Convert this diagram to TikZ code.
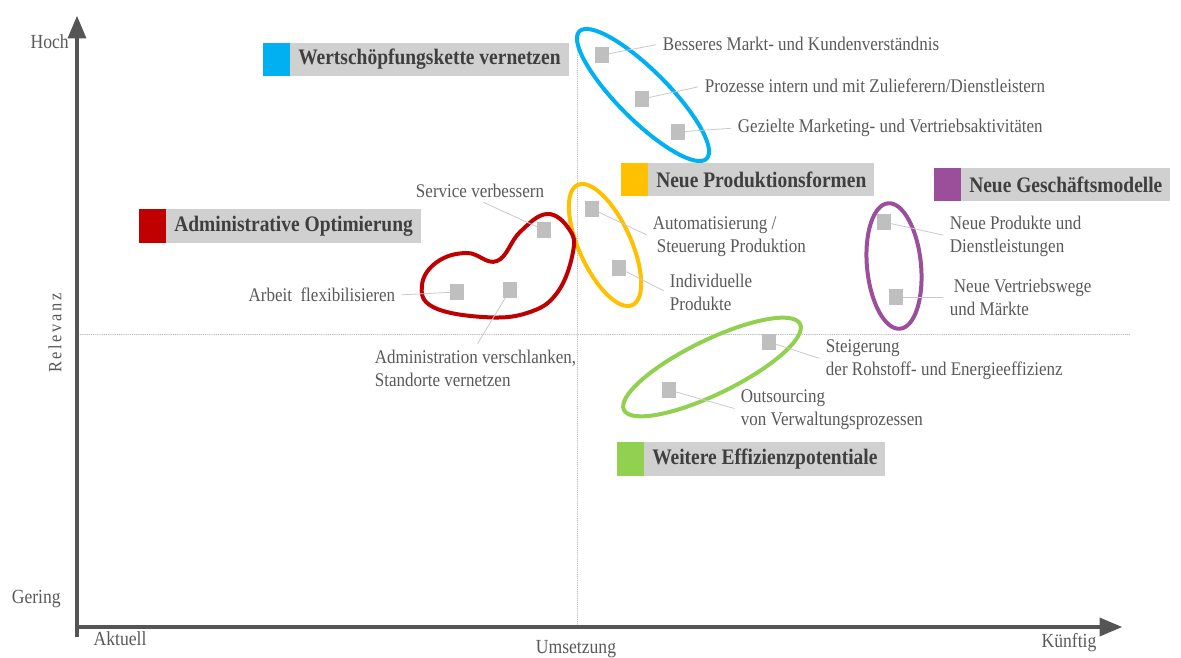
\documentclass[tikz,border=0pt]{standalone}
\usepackage{fontspec}
\setmainfont{Liberation Serif}[FakeStretch=0.88]
\usetikzlibrary{arrows}
\definecolor{cblue}{HTML}{00B0F0}
\definecolor{cred}{HTML}{C00000}
\definecolor{cyellow}{HTML}{FFC000}
\definecolor{cpurple}{HTML}{9B4F9B}
\definecolor{cgreen}{HTML}{92D050}
\definecolor{boxgray}{HTML}{D0D0D0}
\definecolor{ptgray}{HTML}{BFBFBF}
\definecolor{txtgray}{HTML}{595959}
\definecolor{headgray}{HTML}{3F3F3F}
\definecolor{axisgray}{HTML}{555555}
\definecolor{leadgray}{HTML}{C8C8C8}
\definecolor{guidegray}{HTML}{B4B4B4}

\begin{document}
\begin{tikzpicture}[line cap=round,line join=round,>=triangle 45,x=0.75pt,y=-0.75pt,
  lbl/.style={text=txtgray,font=\fontsize{14.5}{17.25}\selectfont,inner sep=2pt,align=left},
  axlbl/.style={text=txtgray,font=\fontsize{15}{18}\selectfont,inner sep=0pt},
  pt/.style={fill=ptgray,minimum width=10.5pt,minimum height=12pt,inner sep=0pt},
  lead/.style={draw=leadgray,line width=0.6pt,shorten >=3pt},
  cat/.style={fill=boxgray,text=headgray,font=\fontsize{16.6}{20}\selectfont\bfseries,
    minimum height=25pt,inner xsep=6pt,inner ysep=0pt,anchor=west},
  catkey/.style={minimum width=20.25pt,minimum height=25pt,inner sep=0pt,anchor=east},
  grp/.style={line width=3pt},
  axis/.style={draw=axisgray,line width=3pt,line cap=butt},
  guide/.style={draw=guidegray,line width=0.4pt,densely dotted}]
\useasboundingbox (0,0) rectangle (1181,657);

% axes and the two guide lines
\coordinate (o) at (77,627);
\coordinate (ytop) at (77,16);
\coordinate (xend) at (1122,627);
\draw[guide] (577,33) -- (577,627);
\draw[guide] (80,334) -- (1130,334);
\draw[axis,->] (77,637) -- (ytop);
\draw[axis,->] (75,627) -- (xend);
\node[axlbl,anchor=east] (hoch) at (69,42) {Hoch};
\node[axlbl,anchor=east] (gering) at (61,599) {Gering};
\node[axlbl] (aktuell) at (120,639) {Aktuell};
\node[axlbl] (umsetzung) at (576,649) {Umsetzung};
\node[axlbl] (kuenftig) at (1069,643) {Künftig};
\node[axlbl,rotate=90,font=\fontsize{14}{16}\selectfont\addfontfeatures{LetterSpace=14}] (relevanz) at (55,333) {Relevanz};

% group outlines
\draw[grp,cblue] (643,95) ellipse [x radius=90,y radius=25,rotate=-45];
\draw[grp,cyellow] (605,245) ellipse [x radius=66,y radius=26,rotate=-65.5];
\draw[grp,cpurple] (894,266) ellipse [x radius=63,y radius=27,rotate=-84.5];
\draw[grp,cgreen] (712,367) ellipse [x radius=98,y radius=27,rotate=26];
\draw[grp,cred] plot[smooth cycle,tension=0.7] coordinates {(422,285) (437,262) (467,253)
  (497,261) (520,232) (547,214) (569,229) (573,252) (557,293) (527,313) (483,317) (433,307)};

% category headings
\node[cat] (wsk) at (290,59.5) {Wertschöpfungskette vernetzen};
\node[catkey,fill=cblue] (wskkey) at (wsk.west) {};
\node[cat] (adm) at (166,226) {Administrative Optimierung};
\node[catkey,fill=cred] (admkey) at (adm.west) {};
\node[cat] (prod) at (648,179.5) {Neue Produktionsformen};
\node[catkey,fill=cyellow] (prodkey) at (prod.west) {};
\node[cat] (gm) at (961,184.5) {Neue Geschäftsmodelle};
\node[catkey,fill=cpurple] (gmkey) at (gm.west) {};
\node[cat] (eff) at (644,459) {Weitere Effizienzpotentiale};
\node[catkey,fill=cgreen] (effkey) at (eff.west) {};

% Wertschoepfungskette
\node[pt] (w1) at (602,55) {};
\node[pt] (w2) at (642,99) {};
\node[pt] (w3) at (678,132) {};
\node[lbl,anchor=west] (w1l) at (660,44) {Besseres Markt- und Kundenverständnis};
\node[lbl,anchor=west] (w2l) at (702,86) {Prozesse intern und mit Zulieferern/Dienstleistern};
\node[lbl,anchor=west] (w3l) at (735,128) {Gezielte Marketing- und Vertriebsaktivitäten};
\draw[lead] (w1) -- (w1l.west);
\draw[lead] (w2) -- (w2l.west);
\draw[lead] (w3) -- (w3l.west);

% Administration
\node[pt] (a1) at (544,230) {};
\node[pt] (a2) at (457,292) {};
\node[pt] (a3) at (510,290) {};
\node[lbl] (a1l) at (480,191) {Service verbessern};
\node[lbl,anchor=east] (a2l) at (398,295) {Arbeit~ flexibilisieren};
\node[lbl,anchor=north west] (a3l) at (372,347) {Administration verschlanken,\\Standorte vernetzen};
\draw[lead] (a1) -- (a1l.south);
\draw[lead] (a2) -- (a2l.east);
\draw[lead] (a3) -- (a3l.north);

% Produktion
\node[pt] (p1) at (592,209) {};
\node[pt] (p2) at (619,268) {};
\node[lbl,anchor=west] (p1l) at (650,236.5) {Automatisierung /\\\hspace{3pt}Steuerung Produktion};
\node[lbl,anchor=west] (p2l) at (667,292.5) {Individuelle\\Produkte};
\draw[lead] (p1) -- (p1l.west);
\draw[lead] (p2) -- (p2l.west);

% Geschaeftsmodelle
\node[pt] (g1) at (884,222) {};
\node[pt] (g2) at (896,297) {};
\node[lbl,anchor=west] (g1l) at (947,236) {Neue Produkte und\\Dienstleistungen};
\node[lbl,anchor=west] (g2l) at (947,297) {\hspace{3pt}Neue Vertriebswege\\und Märkte};
\draw[lead] (g1) -- (g1l.west);
\draw[lead] (g2) -- (g2l.west);

% Effizienz
\node[pt] (e1) at (769,342) {};
\node[pt] (e2) at (669,390) {};
\node[lbl,anchor=west] (e1l) at (823,359.5) {Steigerung\\der Rohstoff- und Energieeffizienz};
\node[lbl,anchor=west] (e2l) at (738,409.5) {Outsourcing\\von Verwaltungsprozessen};
\draw[lead] (e1) -- (e1l.west);
\draw[lead] (e2) -- (e2l.west);
\end{tikzpicture}
\end{document}
